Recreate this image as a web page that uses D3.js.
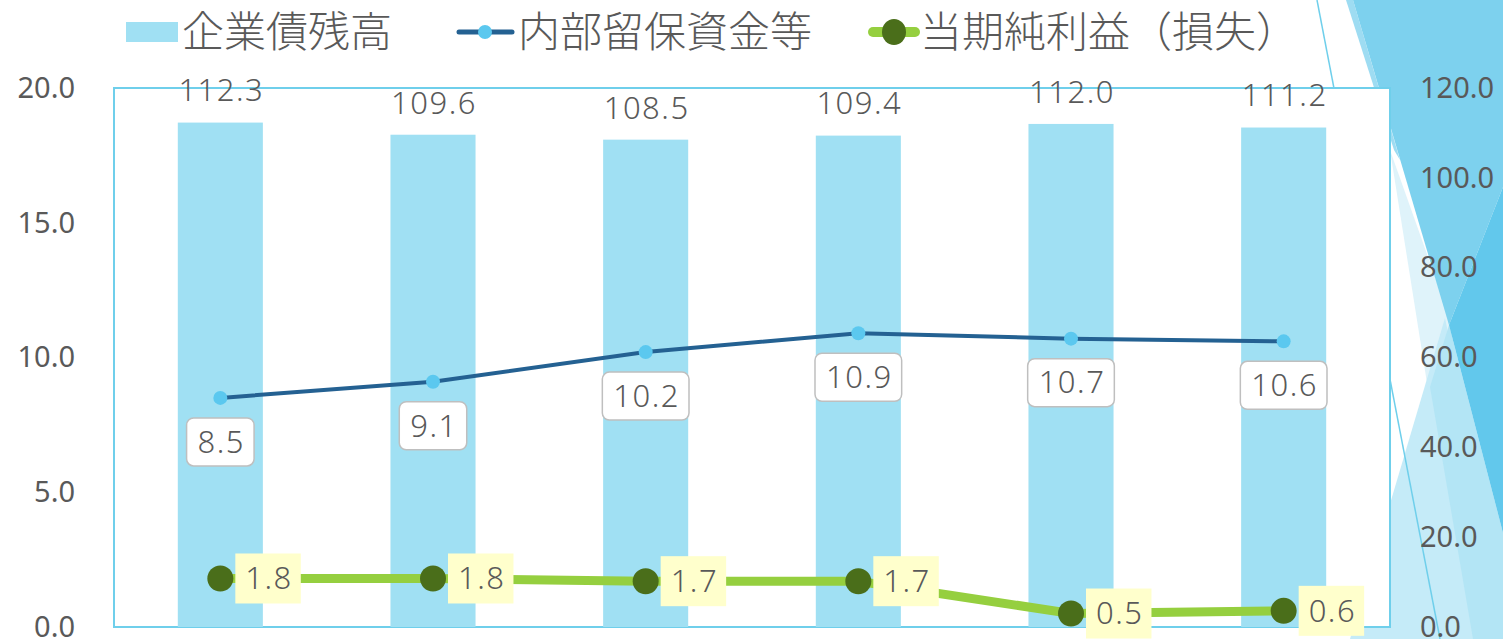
<!DOCTYPE html>
<html lang="ja">
<head>
<meta charset="utf-8">
<style type="text/css">
    body { margin: 0; background: #fff; }
    .tick text { fill: #595959; font-family: "Noto Sans", sans-serif; font-size: 29px; font-weight: 400; }
    .legend text { fill: #595959; font-family: "Noto Sans CJK JP", sans-serif; font-size: 42px; font-weight: 300; }
    .val { fill: #595959; font-family: "Noto Sans", sans-serif; font-size: 31px; font-weight: 300; letter-spacing: 1.5px; }
</style>
</head>
<body>
<svg width="1503" height="639"></svg>

<script src="https://d3js.org/d3.v7.min.js"></script>
<script type="text/javascript">
    // data
    var categories = ["1", "2", "3", "4", "5", "6"];
    var bondBalance = [112.3, 109.6, 108.5, 109.4, 112.0, 111.2];   // 企業債残高 (right axis)
    var retained = [8.5, 9.1, 10.2, 10.9, 10.7, 10.6];              // 内部留保資金等
    var netIncome = [1.8, 1.8, 1.7, 1.7, 0.5, 0.6];                 // 当期純利益（損失）
    var leftTicks = [0, 5, 10, 15, 20];
    var rightTicks = [0, 20, 40, 60, 80, 100, 120];

    var svg = d3.select("svg"),
        pL = 114, pR = 1390, pT = 88, pB = 627;

    // theme decoration on the right edge
    var deco = svg.append("g");
    var shapes = [
        {c: "#dff3fa", p: [[1390, 150], [1454, 330], [1430, 402]]},
        {c: "#c5ebf8", p: [[1445, 318], [1503, 600], [1503, 639], [1350, 639]]},
        {c: "#b3e5f5", p: [[1449, 325], [1503, 533], [1503, 639], [1473, 639], [1430, 387]]},
        {c: "#9edcf2", p: [[1346, 0], [1353, 0], [1400, 160], [1394, 150]]},
        {c: "#7dd1ee", p: [[1353, 0], [1503, 0], [1503, 187], [1449, 325]]},
        {c: "#62c8ec", p: [[1503, 187], [1449, 325], [1503, 533]]}
    ];
    deco.selectAll("polygon").data(shapes).enter().append("polygon")
        .attr("points", function (d) { return d.p.join(" "); })
        .attr("fill", function (d) { return d.c; });
    deco.append("line")
        .attr("x1", 1317).attr("y1", 0).attr("x2", 1440).attr("y2", 639)
        .attr("stroke", "#6fcfeb").attr("stroke-width", 1.5);

    var x = d3.scaleBand().domain(categories).range([pL, pR])
        .paddingInner(0.6).paddingOuter(0.3);
    var yL = d3.scaleLinear().domain([0, 20]).range([pB, pT]);
    var yR = d3.scaleLinear().domain([0, 120]).range([pB, pT]);

    // plot area
    svg.append("rect")
        .attr("x", pL).attr("y", pT)
        .attr("width", pR - pL).attr("height", pB - pT)
        .attr("fill", "#fff").attr("stroke", "#6fcfeb").attr("stroke-width", 2);

    // axes
    var axL = svg.append("g").attr("transform", "translate(" + pL + ",0)")
        .call(d3.axisLeft(yL).tickValues(leftTicks).tickFormat(d3.format(".1f")).tickSize(0).tickPadding(39));
    var axR = svg.append("g").attr("transform", "translate(" + pR + ",0)")
        .call(d3.axisRight(yR).tickValues(rightTicks).tickFormat(d3.format(".1f")).tickSize(0).tickPadding(30));
    axL.select(".domain").remove();
    axR.select(".domain").remove();

    // bars
    svg.selectAll(".bar").data(bondBalance).enter().append("rect")
        .attr("class", "bar")
        .attr("x", function (d, i) { return x(categories[i]); })
        .attr("y", function (d) { return yR(d); })
        .attr("width", x.bandwidth())
        .attr("height", function (d) { return pB - yR(d); })
        .attr("fill", "#a0e0f3");

    svg.selectAll(".barlab").data(bondBalance).enter().append("text")
        .attr("class", "val")
        .attr("x", function (d, i) { return x(categories[i]) + x.bandwidth() / 2 + 1; })
        .attr("y", function (d) { return yR(d) - 32; })
        .attr("text-anchor", "middle").attr("dy", "0.35em")
        .text(function (d) { return d.toFixed(1); });

    var cx = function (i) { return x(categories[i]) + x.bandwidth() / 2; };

    // 内部留保資金等 line
    var line1 = d3.line().x(function (d, i) { return cx(i); }).y(function (d) { return yL(d); });
    svg.append("path").datum(retained)
        .attr("d", line1).attr("fill", "none")
        .attr("stroke", "#246192").attr("stroke-width", 4);
    svg.selectAll(".m1").data(retained).enter().append("circle")
        .attr("cx", function (d, i) { return cx(i); })
        .attr("cy", function (d) { return yL(d); })
        .attr("r", 7).attr("fill", "#5bc8ef");

    // 当期純利益 line
    svg.append("path").datum(netIncome)
        .attr("d", line1).attr("fill", "none")
        .attr("stroke", "#95cf3f").attr("stroke-width", 9);
    svg.selectAll(".m2").data(netIncome).enter().append("circle")
        .attr("cx", function (d, i) { return cx(i); })
        .attr("cy", function (d) { return yL(d); })
        .attr("r", 13).attr("fill", "#4a6e1a");

    // labels for retained (boxes below point)
    var lab1 = svg.selectAll(".lab1").data(retained).enter().append("g")
        .attr("transform", function (d, i) { return "translate(" + cx(i) + "," + (yL(d) + 44) + ")"; });
    lab1.append("text").attr("class", "val")
        .attr("x", 1)
        .attr("text-anchor", "middle").attr("dy", "0.35em")
        .text(function (d) { return d.toFixed(1); });
    lab1.each(function () {
        var g = d3.select(this), bb = g.select("text").node().getBBox();
        g.insert("rect", "text")
            .attr("x", bb.x - 11).attr("y", -24)
            .attr("width", bb.width + 20).attr("height", 48)
            .attr("rx", 7)
            .attr("fill", "#fff").attr("stroke", "#bfbfbf").attr("stroke-width", 1.5);
    });

    // labels for net income (yellow boxes to the right)
    var lab2 = svg.selectAll(".lab2").data(netIncome).enter().append("g")
        .attr("transform", function (d, i) { return "translate(" + (cx(i) + 15) + "," + yL(d) + ")"; });
    lab2.append("text").attr("class", "val")
        .attr("x", 10).attr("dy", "0.35em")
        .text(function (d) { return d.toFixed(1); });
    lab2.each(function () {
        var g = d3.select(this), bb = g.select("text").node().getBBox();
        g.insert("rect", "text")
            .attr("x", 0).attr("y", -25)
            .attr("width", bb.width + 18).attr("height", 50)
            .attr("fill", "#ffffcc");
    });

    // legend
    var lg = svg.append("g").attr("class", "legend");
    lg.append("rect").attr("x", 126).attr("y", 22).attr("width", 52).attr("height", 20).attr("fill", "#a0e0f3");
    lg.append("text").attr("x", 182).attr("y", 32).attr("dy", "0.35em").text("企業債残高");

    lg.append("line").attr("x1", 459).attr("y1", 32).attr("x2", 512).attr("y2", 32)
        .attr("stroke", "#246192").attr("stroke-width", 5).attr("stroke-linecap", "round");
    lg.append("circle").attr("cx", 485).attr("cy", 32).attr("r", 7).attr("fill", "#5bc8ef");
    lg.append("text").attr("x", 518).attr("y", 32).attr("dy", "0.35em").text("内部留保資金等");

    lg.append("line").attr("x1", 873).attr("y1", 32).attr("x2", 915).attr("y2", 32)
        .attr("stroke", "#95cf3f").attr("stroke-width", 10).attr("stroke-linecap", "round");
    lg.append("ellipse").attr("cx", 894).attr("cy", 32).attr("rx", 12).attr("ry", 13).attr("fill", "#4a6e1a");
    lg.append("text").attr("x", 920).attr("y", 32).attr("dy", "0.35em").text("当期純利益（損失）");
</script>
</body>
</html>
